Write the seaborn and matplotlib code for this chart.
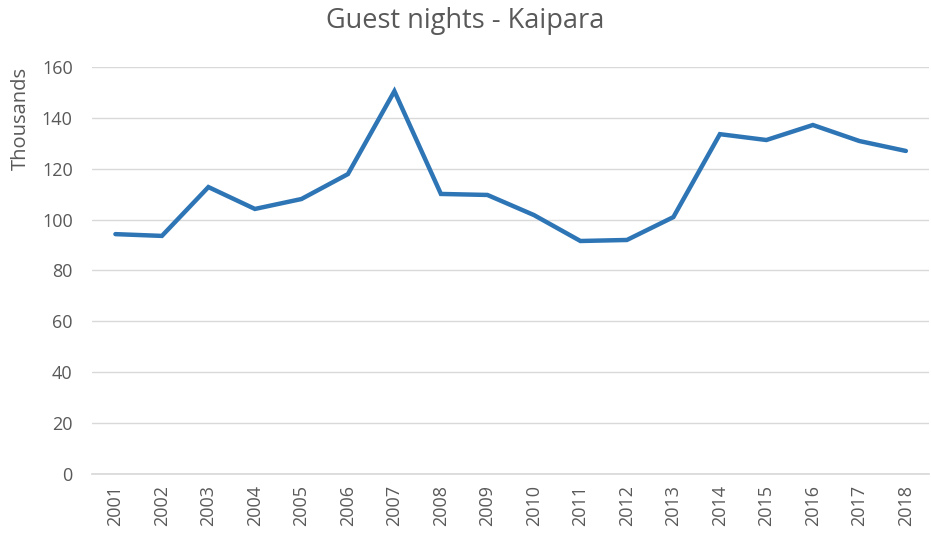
import pandas as pd
import numpy as np
import matplotlib.pyplot as plt
import seaborn as sns

years = [str(y) for y in range(2001, 2019)]
guest_nights = [94.3, 93.6, 112.8, 104.2, 108.1, 117.9, 150.5, 110.1, 109.7,
                101.8, 91.6, 92.0, 101.0, 133.6, 131.3, 137.2, 130.9, 127.0]
y_ticks = [0, 20, 40, 60, 80, 100, 120, 140, 160]

df = pd.DataFrame({'Year': years, 'Guest nights': guest_nights})

sns.set_theme(style='white')
plt.rcParams['font.family'] = ['Open Sans', 'DejaVu Sans']
text_col = '#595959'

fig = plt.figure(figsize=(9.31, 5.34), dpi=100)
ax = fig.add_axes([0.099, 0.1124, 0.899, 0.7621])

# line through category positions
df['pos'] = np.arange(len(df))
sns.lineplot(data=df, x='pos', y='Guest nights', ax=ax, color='#2E75B6',
             linewidth=3.2, solid_joinstyle='miter')

ax.set_xlim(-0.5, len(years) - 0.5)
ax.set_ylim(0, 160)
ax.set_yticks(y_ticks)
ax.set_xticks(df['pos'])
ax.set_xticklabels(years, rotation=90)
ax.yaxis.grid(True, color='#D9D9D9', linewidth=1)
ax.set_axisbelow(True)
for s in ['top', 'right', 'left']:
    ax.spines[s].set_visible(False)
ax.spines['bottom'].set_color('#D9D9D9')
ax.tick_params(axis='both', colors=text_col, labelsize=13, length=0)
ax.tick_params(axis='y', pad=14)
ax.tick_params(axis='x', pad=8)
ax.set_xlabel('')
ax.set_ylabel('Thousands', color=text_col, fontsize=14.5, labelpad=8, loc='top')
fig.suptitle('Guest nights - Kaipara', color=text_col, fontsize=19.5, y=0.987)

fig.savefig('out.png', dpi=100)
